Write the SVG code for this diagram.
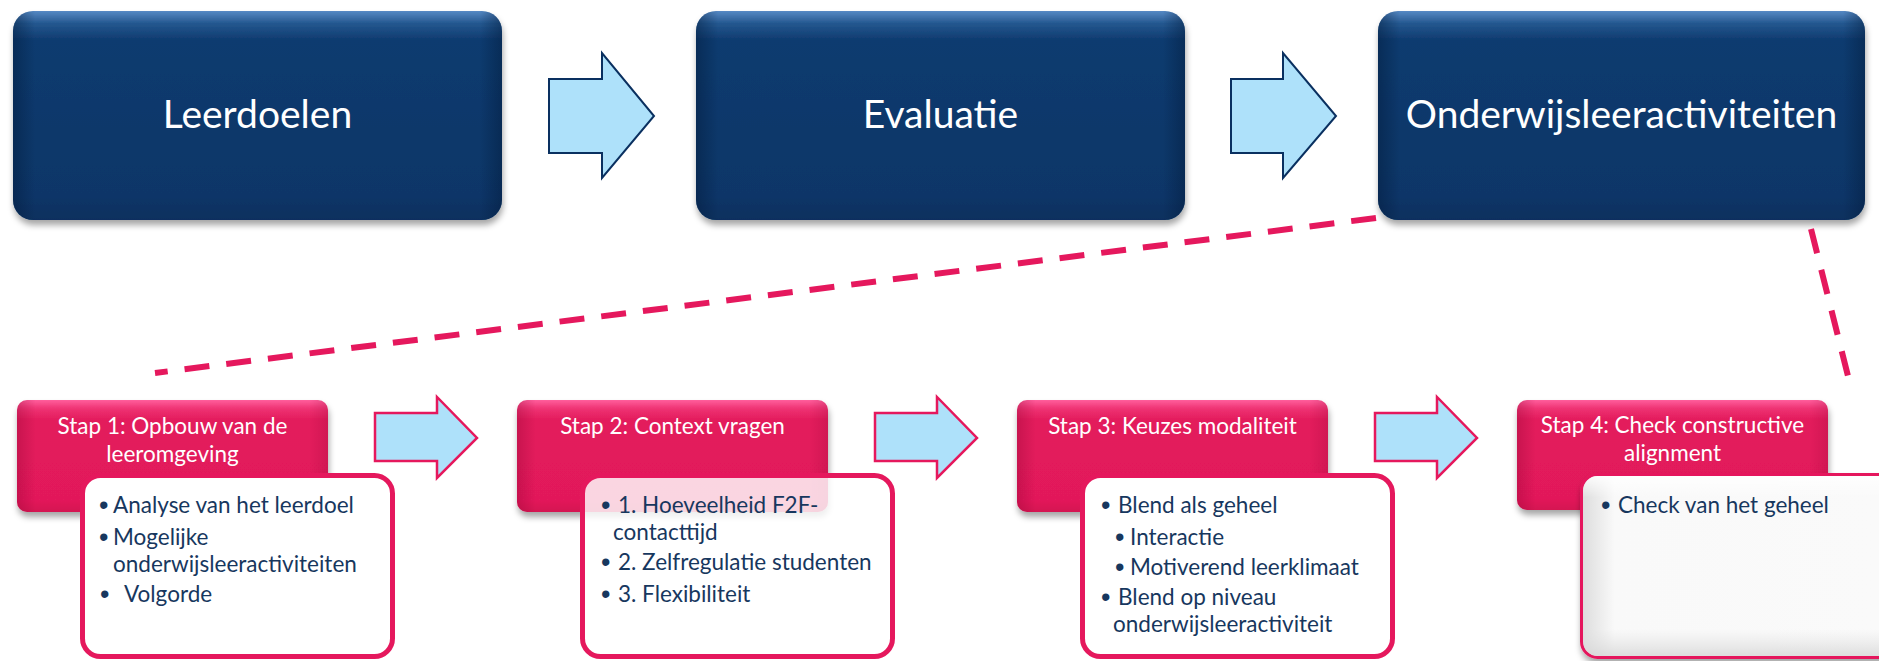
<svg xmlns="http://www.w3.org/2000/svg" width="1879" height="661" viewBox="0 0 1879 661">
  <defs>
    <style>
      .top-label { font-family: Lato, "Noto Sans", sans-serif; font-size: 39px; fill: #ffffff; text-anchor: middle; }
      .step-label { font-family: Lato, "Noto Sans", sans-serif; font-size: 22.5px; fill: #ffffff; text-anchor: middle; }
      .item { font-family: Lato, "Noto Sans", sans-serif; font-size: 22.5px; fill: #17375e; }
      .bullet { font-family: "Liberation Sans", sans-serif; font-size: 27px; fill: #17375e; }
      .navy-box { fill: url(#navyFill); filter: url(#boxShadow); }
      .navy-edge { fill: url(#navySides); }
      .pink-box { fill: url(#pinkFill); filter: url(#boxShadow); }
      .pink-edge { fill: url(#pinkSides); }
      .card { fill: #ffffff; stroke: #e5185d; stroke-width: 5; }
      .block-arrow-top { fill: #aee1fa; stroke: #0a3060; stroke-width: 2; stroke-linejoin: miter; }
      .block-arrow-step { fill: #aee1fa; stroke: #e5185d; stroke-width: 2.5; stroke-linejoin: miter; }
      .dash-link { fill: none; stroke: #e5185d; stroke-width: 6; stroke-dasharray: 25 17; }
    </style>
    <filter id="boxShadow" x="-10%" y="-10%" width="120%" height="130%">
      <feDropShadow dx="1" dy="5" stdDeviation="3" flood-color="#000000" flood-opacity="0.35"/>
    </filter>
    <linearGradient id="navyFill" x1="0" y1="0" x2="0" y2="1">
      <stop offset="0" stop-color="#5689c4"/>
      <stop offset="0.06" stop-color="#24578f"/>
      <stop offset="0.14" stop-color="#0e3b6f"/>
      <stop offset="0.88" stop-color="#0b3668"/>
      <stop offset="1" stop-color="#072f5e"/>
    </linearGradient>
    <linearGradient id="navySides" x1="0" y1="0" x2="1" y2="0">
      <stop offset="0" stop-color="#021a3a" stop-opacity="0.45"/>
      <stop offset="0.045" stop-color="#021a3a" stop-opacity="0"/>
      <stop offset="0.955" stop-color="#021a3a" stop-opacity="0"/>
      <stop offset="1" stop-color="#021a3a" stop-opacity="0.45"/>
    </linearGradient>
    <linearGradient id="pinkFill" x1="0" y1="0" x2="0" y2="1">
      <stop offset="0" stop-color="#ff5e9c"/>
      <stop offset="0.08" stop-color="#ee3272"/>
      <stop offset="0.18" stop-color="#e31b5c"/>
      <stop offset="0.9" stop-color="#e2195a"/>
      <stop offset="1" stop-color="#d41551"/>
    </linearGradient>
    <linearGradient id="pinkSides" x1="0" y1="0" x2="1" y2="0">
      <stop offset="0" stop-color="#8a0030" stop-opacity="0.3"/>
      <stop offset="0.06" stop-color="#8a0030" stop-opacity="0"/>
      <stop offset="0.94" stop-color="#8a0030" stop-opacity="0"/>
      <stop offset="1" stop-color="#8a0030" stop-opacity="0.2"/>
    </linearGradient>
    <linearGradient id="cardShadeX" x1="0" y1="0" x2="1" y2="0">
      <stop offset="0" stop-color="#dcdcdc"/>
      <stop offset="0.1" stop-color="#f9f9f9"/>
      <stop offset="0.9" stop-color="#fafafa"/>
      <stop offset="1" stop-color="#ececec"/>
    </linearGradient>
    <linearGradient id="cardShadeY" x1="0" y1="0" x2="0" y2="1">
      <stop offset="0" stop-color="#ffffff" stop-opacity="0.9"/>
      <stop offset="0.12" stop-color="#ffffff" stop-opacity="0"/>
      <stop offset="0.85" stop-color="#e0e0e0" stop-opacity="0"/>
      <stop offset="1" stop-color="#d6d6d6" stop-opacity="0.8"/>
    </linearGradient>
  </defs>

  <!-- main phases -->
  <g id="leerdoelen">
    <rect class="navy-box" x="13" y="11" width="489" height="209" rx="20"/>
    <rect class="navy-edge" x="13" y="11" width="489" height="209" rx="20"/>
    <text class="top-label" x="257.5" y="128">Leerdoelen</text>
  </g>
  <g id="evaluatie">
    <rect class="navy-box" x="696" y="11" width="489" height="209" rx="20"/>
    <rect class="navy-edge" x="696" y="11" width="489" height="209" rx="20"/>
    <text class="top-label" x="940.5" y="128">Evaluatie</text>
  </g>
  <g id="onderwijsleeractiviteiten">
    <rect class="navy-box" x="1378" y="11" width="487" height="209" rx="20"/>
    <rect class="navy-edge" x="1378" y="11" width="487" height="209" rx="20"/>
    <text class="top-label" x="1621.5" y="128">Onderwijsleeractiviteiten</text>
  </g>

  <!-- connectors: block arrows and dashed zoom lines -->
  <g id="connectors">
    <polygon class="block-arrow-top" points="549,79 602,79 602,53 654,116 602,178 602,153 549,153"/>
    <polygon class="block-arrow-top" points="1231,79 1283,79 1283,53 1336,116 1283,178 1283,153 1231,153"/>
    <polygon class="block-arrow-step" points="375,413 437,413 437,397 477,438 437,478 437,461 375,461"/>
    <polygon class="block-arrow-step" points="875,413 937,413 937,397 977,438 937,478 937,461 875,461"/>
    <polygon class="block-arrow-step" points="1375,413 1437,413 1437,397 1477,438 1437,478 1437,461 1375,461"/>
    <line class="dash-link" x1="1376" y1="218" x2="155" y2="373"/>
    <line class="dash-link" x1="1811" y1="229" x2="1848" y2="376" stroke-dasharray="24 18"/>
  </g>

  <!-- step 1 -->
  <g id="stap1">
    <rect class="pink-box" x="17" y="400" width="311" height="112" rx="10"/>
    <rect class="pink-edge" x="17" y="400" width="311" height="112" rx="10"/>
    <text class="step-label" x="172.5" y="434">Stap 1: Opbouw van de</text>
    <text class="step-label" x="172.5" y="462">leeromgeving</text>
    <rect class="card" x="82.5" y="475.5" width="310" height="181" rx="18"/>
    <text class="bullet" x="99" y="514">•</text>
    <text class="item" x="113" y="513">Analyse van het leerdoel</text>
    <text class="bullet" x="99" y="546">•</text>
    <text class="item" x="113" y="545">Mogelijke</text>
    <text class="item" x="113" y="572">onderwijsleeractiviteiten</text>
    <text class="bullet" x="100" y="603">•</text>
    <text class="item" x="124" y="602">Volgorde</text>
  </g>

  <!-- step 2 -->
  <g id="stap2">
    <rect class="pink-box" x="517" y="400" width="311" height="112" rx="10"/>
    <rect class="pink-edge" x="517" y="400" width="311" height="112" rx="10"/>
    <text class="step-label" x="672.5" y="434">Stap 2: Context vragen</text>
    <rect class="card" x="582.5" y="475.5" width="310" height="181" rx="18" fill-opacity="0.82"/>
    <text class="bullet" x="601" y="514">•</text>
    <text class="item" x="618" y="513">1. Hoeveelheid F2F-</text>
    <text class="item" x="613" y="540">contacttijd</text>
    <text class="bullet" x="601" y="571">•</text>
    <text class="item" x="618" y="570">2. Zelfregulatie studenten</text>
    <text class="bullet" x="601" y="603">•</text>
    <text class="item" x="618" y="602">3. Flexibiliteit</text>
  </g>

  <!-- step 3 -->
  <g id="stap3">
    <rect class="pink-box" x="1017" y="400" width="311" height="112" rx="10"/>
    <rect class="pink-edge" x="1017" y="400" width="311" height="112" rx="10"/>
    <text class="step-label" x="1172.5" y="434">Stap 3: Keuzes modaliteit</text>
    <rect class="card" x="1082.5" y="475.5" width="310" height="181" rx="18"/>
    <text class="bullet" x="1101" y="514">•</text>
    <text class="item" x="1118" y="513">Blend als geheel</text>
    <text class="bullet" x="1115" y="546">•</text>
    <text class="item" x="1130" y="545">Interactie</text>
    <text class="bullet" x="1115" y="576">•</text>
    <text class="item" x="1130" y="575">Motiverend leerklimaat</text>
    <text class="bullet" x="1101" y="606">•</text>
    <text class="item" x="1118" y="605">Blend op niveau</text>
    <text class="item" x="1113" y="632">onderwijsleeractiviteit</text>
  </g>

  <!-- step 4 -->
  <g id="stap4">
    <rect class="pink-box" x="1517" y="400" width="311" height="110" rx="10"/>
    <rect class="pink-edge" x="1517" y="400" width="311" height="110" rx="10"/>
    <text class="step-label" x="1672.5" y="433">Stap 4: Check constructive</text>
    <text class="step-label" x="1672.5" y="461">alignment</text>
    <rect x="1581.5" y="474.5" width="330" height="183" rx="16" fill="url(#cardShadeX)" stroke="#e5185d" stroke-width="3" filter="url(#boxShadow)"/>
    <rect x="1583" y="476" width="327" height="180" rx="15" fill="url(#cardShadeY)"/>
    <text class="bullet" x="1601" y="514">•</text>
    <text class="item" x="1618" y="513">Check van het geheel</text>
  </g>
</svg>
